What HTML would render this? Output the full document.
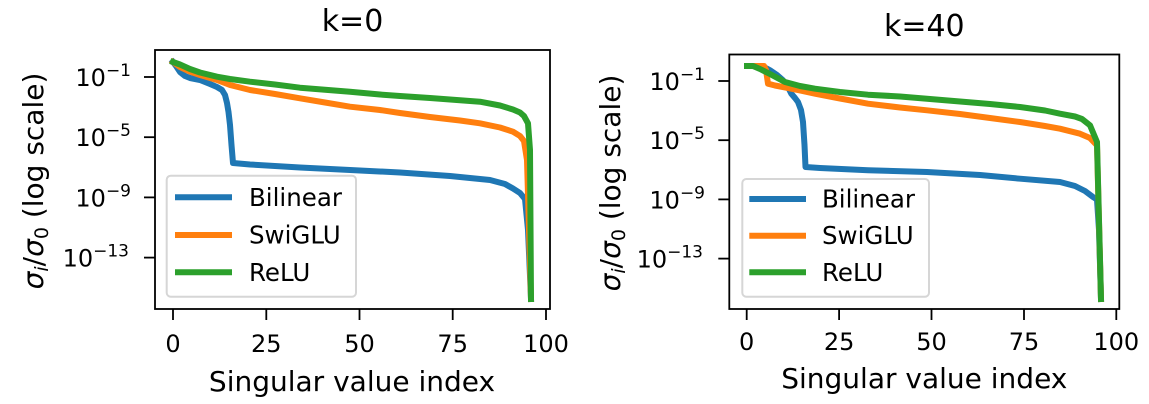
<!DOCTYPE html>
<html>
<head>
<meta charset="utf-8">
<style>
html,body{margin:0;padding:0;background:#fff;}
svg{display:block;}
text{font-family:"DejaVu Sans","Liberation Sans",sans-serif;fill:#000;}
</style>
</head>
<body>
<svg width="1149" height="404" viewBox="0 0 1149 404" xmlns="http://www.w3.org/2000/svg">
<rect x="0" y="0" width="1149" height="404" fill="#fff"/>

<!-- ================= LEFT PANEL (k=0) ================= -->
<text x="352.5" y="31" font-size="30" text-anchor="middle">k=0</text>

<g fill="none" stroke-width="6" stroke-linejoin="round" stroke-linecap="square">
<polyline stroke="#1f77b4" points="173,62 176,66 180,72 185,76 190,78 200,80 210,84 217,87 222,90 225,95 227,103 228.5,112 230,125 231.5,145 233,163 250,164.5 300,167.5 350,170 400,172.5 450,176 490,180 505,184 513,188.5 520,193 525,199 528,230 531,299"/>
<polyline stroke="#ff7f0e" points="173,62 180,67 190,71.7 200,75 217,80 230,85 250,90 275,94 300,98.3 325,102.5 350,106.7 380,110 400,113 430,117 460,120.5 480,123.3 500,127.5 513,131.7 520,136 524,141 527,160 531,299"/>
<polyline stroke="#2ca02c" points="173,62 180,64.5 190,69 200,72.5 217,76.7 230,79 250,81.7 275,84.5 300,87.7 325,89.8 350,91.7 380,94.5 400,96 430,98 460,100.3 480,101.7 500,105.5 513,109.5 520,112.5 524,116 528,123.3 530,150 531,299"/>
</g>

<!-- axes frame -->
<rect x="155" y="50" width="395" height="259" fill="none" stroke="#000" stroke-width="1.8"/>

<!-- y ticks -->
<g stroke="#000" stroke-width="1.8">
<line x1="144" y1="77" x2="155" y2="77"/>
<line x1="144" y1="137.2" x2="155" y2="137.2"/>
<line x1="144" y1="197.4" x2="155" y2="197.4"/>
<line x1="144" y1="257.6" x2="155" y2="257.6"/>
</g>
<g font-size="24" text-anchor="end">
<text x="131" y="86">10<tspan font-size="17" dy="-10">−1</tspan></text>
<text x="131" y="146.2">10<tspan font-size="17" dy="-10">−5</tspan></text>
<text x="131" y="206.4">10<tspan font-size="17" dy="-10">−9</tspan></text>
<text x="129" y="266.6">10<tspan font-size="17" dy="-10">−13</tspan></text>
</g>

<!-- x ticks -->
<g stroke="#000" stroke-width="1.8">
<line x1="173" y1="309" x2="173" y2="320"/>
<line x1="266.3" y1="309" x2="266.3" y2="320"/>
<line x1="359.5" y1="309" x2="359.5" y2="320"/>
<line x1="452.7" y1="309" x2="452.7" y2="320"/>
<line x1="546" y1="309" x2="546" y2="320"/>
</g>
<g font-size="24" text-anchor="middle">
<text x="173" y="352">0</text>
<text x="266.3" y="352">25</text>
<text x="359.5" y="352">50</text>
<text x="452.7" y="352">75</text>
<text x="546" y="352">100</text>
</g>
<text x="352" y="391" font-size="28" text-anchor="middle">Singular value index</text>

<text transform="translate(43,181) rotate(-90)" font-size="28" text-anchor="middle"><tspan font-style="italic">σ</tspan><tspan font-size="19" dy="5" font-style="italic">i</tspan><tspan dy="-5">/</tspan><tspan font-style="italic">σ</tspan><tspan font-size="19" dy="5">0</tspan><tspan dy="-5"> (log scale)</tspan></text>

<!-- legend -->
<rect x="166.7" y="175.7" width="189.3" height="121" rx="4" ry="4" fill="#fff" fill-opacity="0.85" stroke="#d6d6d6" stroke-width="2"/>
<g stroke-width="6" stroke-linecap="butt">
<line x1="175" y1="197.3" x2="232" y2="197.3" stroke="#1f77b4"/>
<line x1="175" y1="235" x2="232" y2="235" stroke="#ff7f0e"/>
<line x1="175" y1="272.3" x2="232" y2="272.3" stroke="#2ca02c"/>
</g>
<g font-size="24.5">
<text x="249" y="206">Bilinear</text>
<text x="249" y="243.5">SwiGLU</text>
<text x="249" y="281">ReLU</text>
</g>

<!-- ================= RIGHT PANEL (k=40) ================= -->
<text x="924.3" y="36" font-size="30" text-anchor="middle">k=40</text>

<g fill="none" stroke-width="6" stroke-linejoin="round" stroke-linecap="square">
<polyline stroke="#1f77b4" points="747,66 762,66 770,70.3 777,75 783,80.3 788,87 791.3,93.7 795,98 798,102 801,110 803,122 804.5,145 805.5,167 820,168 868,170.3 927,172 980,175 1020,178.7 1060,182 1075,186 1085,191 1093,197 1097,199.5 1099,230 1101,299"/>
<polyline stroke="#ff7f0e" points="747,66 764,66 766,70 768,83.7 775,85.5 788,88 800,90.5 815,93.7 840,98.5 868,103.7 900,107.5 927,110.3 960,114 990,118 1020,122 1045,126 1060,128.7 1080,133.7 1090,138 1097,145.3 1101,299"/>
<polyline stroke="#2ca02c" points="747,66 753,66 760,69 770,74 785,82 800,86 815,88.7 840,92 868,94.7 900,96.5 927,98.7 960,101.5 990,104 1020,107 1045,110.5 1060,113.7 1075,116.5 1082,119 1090,125.3 1097,142 1101,299"/>
</g>

<rect x="729.3" y="54.5" width="390" height="254.5" fill="none" stroke="#000" stroke-width="1.8"/>

<g stroke="#000" stroke-width="1.8">
<line x1="718.3" y1="81" x2="729.3" y2="81"/>
<line x1="718.3" y1="140.2" x2="729.3" y2="140.2"/>
<line x1="718.3" y1="199.4" x2="729.3" y2="199.4"/>
<line x1="718.3" y1="258.6" x2="729.3" y2="258.6"/>
</g>
<g font-size="24" text-anchor="end">
<text x="705" y="90">10<tspan font-size="17" dy="-10">−1</tspan></text>
<text x="705" y="149.2">10<tspan font-size="17" dy="-10">−5</tspan></text>
<text x="705" y="208.4">10<tspan font-size="17" dy="-10">−9</tspan></text>
<text x="703" y="267.6">10<tspan font-size="17" dy="-10">−13</tspan></text>
</g>

<g stroke="#000" stroke-width="1.8">
<line x1="746.7" y1="309" x2="746.7" y2="320"/>
<line x1="839.1" y1="309" x2="839.1" y2="320"/>
<line x1="931.5" y1="309" x2="931.5" y2="320"/>
<line x1="1024" y1="309" x2="1024" y2="320"/>
<line x1="1116.3" y1="309" x2="1116.3" y2="320"/>
</g>
<g font-size="24" text-anchor="middle">
<text x="746.7" y="350">0</text>
<text x="839.1" y="350">25</text>
<text x="931.5" y="350">50</text>
<text x="1024" y="350">75</text>
<text x="1116.3" y="350">100</text>
</g>
<text x="924.3" y="388" font-size="28" text-anchor="middle">Singular value index</text>

<text transform="translate(620,183) rotate(-90)" font-size="28" text-anchor="middle"><tspan font-style="italic">σ</tspan><tspan font-size="19" dy="5" font-style="italic">i</tspan><tspan dy="-5">/</tspan><tspan font-style="italic">σ</tspan><tspan font-size="19" dy="5">0</tspan><tspan dy="-5"> (log scale)</tspan></text>

<rect x="742.3" y="179" width="186.7" height="117.7" rx="4" ry="4" fill="#fff" fill-opacity="0.85" stroke="#d6d6d6" stroke-width="2"/>
<g stroke-width="6" stroke-linecap="butt">
<line x1="749.3" y1="199" x2="806" y2="199" stroke="#1f77b4"/>
<line x1="749.3" y1="235.7" x2="806" y2="235.7" stroke="#ff7f0e"/>
<line x1="749.3" y1="272.3" x2="806" y2="272.3" stroke="#2ca02c"/>
</g>
<g font-size="24.5">
<text x="822" y="207.5">Bilinear</text>
<text x="822" y="244.2">SwiGLU</text>
<text x="822" y="281">ReLU</text>
</g>
</svg>
</body>
</html>
